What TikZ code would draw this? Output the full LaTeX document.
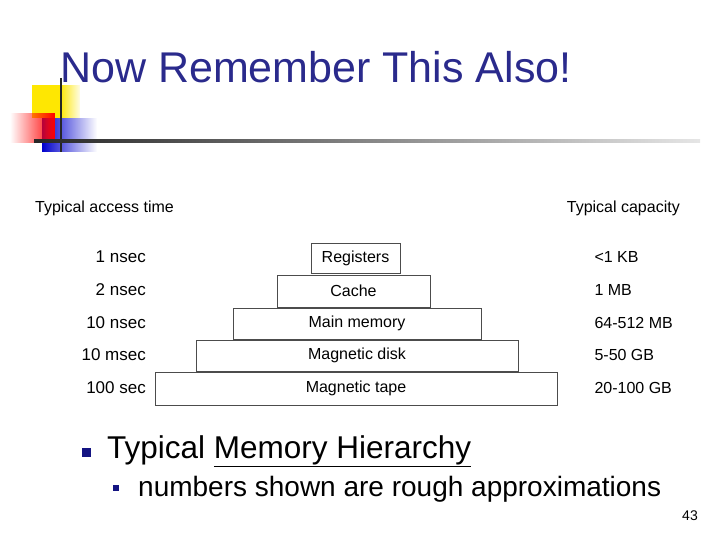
\documentclass[tikz,border=0pt]{standalone}
\usepackage{fontspec}
\setmainfont{Liberation Sans}
\usetikzlibrary{fadings}
\definecolor{titleblue}{RGB}{42,42,140}
\definecolor{bulletblue}{RGB}{20,20,130}
\begin{document}
\begin{tikzpicture}[x=1pt,y=-1pt]
	\tikzset{level/.style = {draw=black!70, fill=white, inner sep=0pt, font=\fontsize{16}{18}\selectfont}}
	\tikzset{side/.style = {inner sep=0pt, font=\fontsize{16}{18}\selectfont}}
	\useasboundingbox (0,0) rectangle (720,540);
	% Logo
	\fill[yellow!90!orange] (32,85) rectangle (80,118);
	\fill[white, path fading=west] (60,85) rectangle (82,118);
	\fill[blue!80!black, path fading=east] (42,118) rectangle (97,152);
	\fill[red, path fading=west] (10,113) rectangle (55,143);
	\draw[black!85, line width=1.5pt] (61,78) -- (61,152);
	\shade[left color=black!85, right color=black!10] (34,140) rectangle (700,142.5);
	\node[anchor=base west, inner sep=0pt, text=titleblue, font=\fontsize{43}{46}\selectfont] (title) at (60,83) {Now Remember This Also!};
	% Hierarchy
	\node[side, anchor=base west] (acc) at (35,212) {Typical access time};
	\node[side, anchor=base east] (cap) at (680,212) {Typical capacity};
	\foreach \name/\xl/\xr/\yt/\yb/\txt/\tim/\size in {
		reg/311/400/243/273/Registers/1 nsec/<1 KB,
		cache/277/430/275/307/Cache/2 nsec/1 MB,
		main/233/481/308/339/Main memory/10 nsec/64-512 MB,
		disk/196/518/340/371/Magnetic disk/10 msec/5-50 GB,
		tape/155/557/372/405/Magnetic tape/100 sec/20-100 GB}{
		\node[level, minimum width=\xr-\xl, minimum height=\yb-\yt] (\name) at ({(\xl+\xr)/2},{(\yt+\yb)/2}) {\txt};
		\node[side, anchor=east, font=\fontsize{17}{18}\selectfont] (\name-t) at (146,{(\yt+\yb)/2-1}) {\tim};
		\node[side, anchor=east] (\name-s) at (673,{(\yt+\yb)/2-1}) {\phantom{64-512 MB}};
		\node[side, anchor=west] at (\name-s.west) {\size};
	}
	% Bullets
	\fill[bulletblue] (82,448) rectangle (91,457);
	\node[anchor=base west, inner sep=0pt, font=\fontsize{31.5}{34}\selectfont] (b1) at (107,458) {Typical \underline{Memory Hierarchy}};
	\fill[bulletblue] (113,485) rectangle (119,491);
	\node[anchor=base west, inner sep=0pt, font=\fontsize{28}{30}\selectfont] (b2) at (138,496) {numbers shown are rough approximations};
	\node[anchor=base east, inner sep=0pt, font=\fontsize{14}{16}\selectfont] (page) at (698,520) {43};
\end{tikzpicture}
\end{document}
